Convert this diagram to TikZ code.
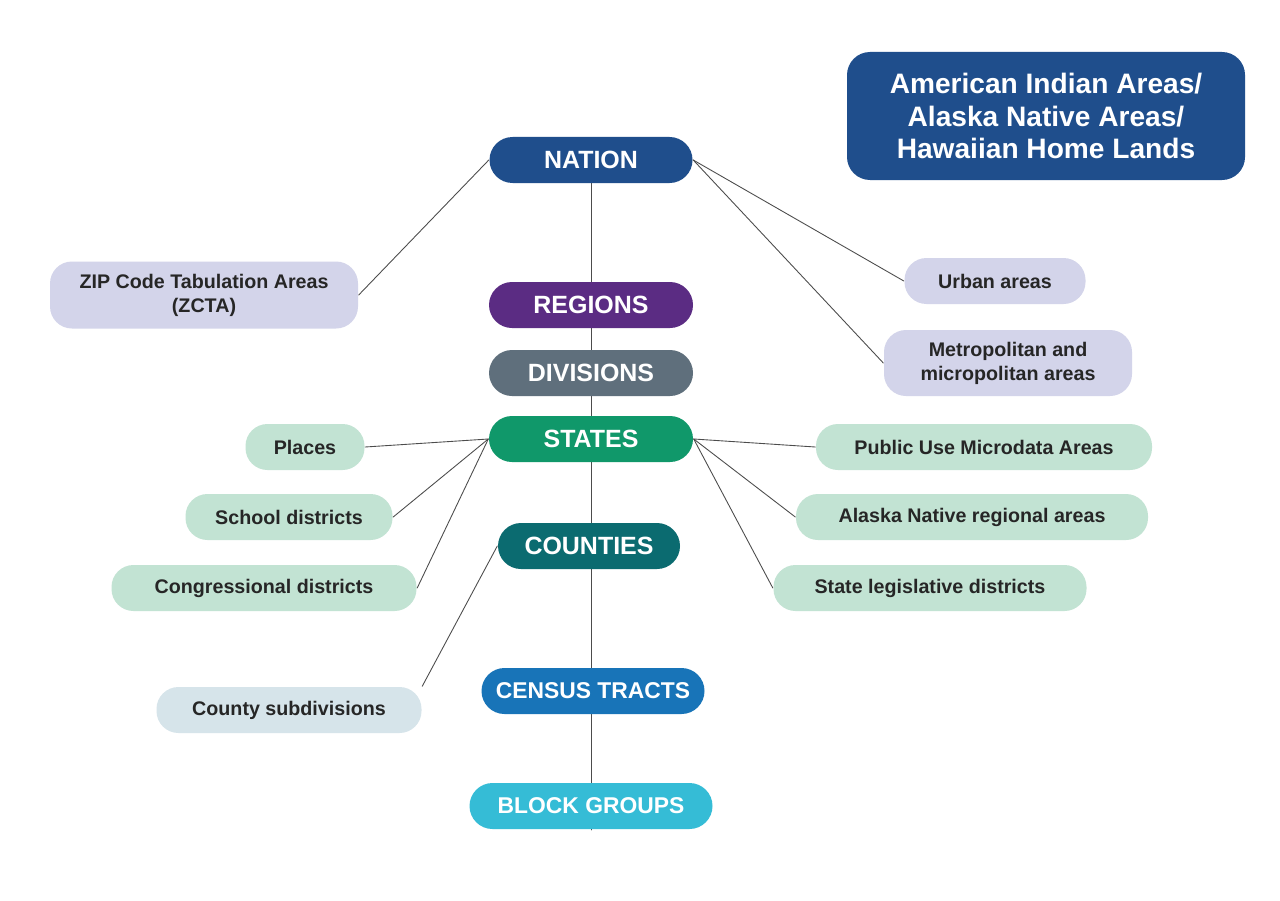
\documentclass[tikz,border=0pt]{standalone}
\usepackage{fontspec}
\setmainfont{Liberation Sans}
\definecolor{navy}{HTML}{1F4E8C}
\definecolor{purp}{HTML}{5B2C83}
\definecolor{slate}{HTML}{5F6F7C}
\definecolor{green}{HTML}{10986A}
\definecolor{teal}{HTML}{0B6B70}
\definecolor{blue}{HTML}{1874B8}
\definecolor{cyan}{HTML}{35BCD6}
\definecolor{lav}{HTML}{D3D4EA}
\definecolor{mint}{HTML}{C2E3D3}
\definecolor{ice}{HTML}{D6E4EA}
\tikzset{
  lvl/.style={rounded corners=0.23cm,text=white,font=\bfseries\fontsize{7.1}{8}\selectfont,
    minimum height=0.46cm,inner sep=0pt,align=center},
  side/.style={rounded corners=0.22cm,text=black!85,font=\bfseries\fontsize{5.6}{6.8}\selectfont,
    minimum height=0.46cm,inner sep=0pt,align=center},
  link/.style={black!70,line width=0.25pt}
}
\begin{document}
\begin{tikzpicture}[line join=round,line cap=round]
  \useasboundingbox[fill=white] (0,0) rectangle (12.8,9);
  % spine
  \draw[link] (5.91,7.4)--(5.91,0.7);
  % levels
  \path (5.91,7.40) node[lvl,fill=navy,minimum width=2.03cm] (N) {NATION}
        (5.91,5.95) node[lvl,fill=purp,minimum width=2.04cm] (R) {REGIONS}
        (5.91,5.27) node[lvl,fill=slate,minimum width=2.04cm] (D) {DIVISIONS}
        (5.91,4.61) node[lvl,fill=green,minimum width=2.04cm] (S) {STATES}
        (5.89,3.54) node[lvl,fill=teal,minimum width=1.82cm] (C) {COUNTIES}
        (5.93,2.09) node[lvl,fill=blue,minimum width=2.23cm,
          font=\bfseries\fontsize{6.5}{8}\selectfont] (T) {CENSUS TRACTS}
        (5.91,0.94) node[lvl,fill=cyan,minimum width=2.43cm,
          font=\bfseries\fontsize{6.5}{8}\selectfont] (B) {BLOCK GROUPS};
  \node[lvl,fill=navy,minimum width=3.98cm,minimum height=1.28cm,
        font=\bfseries\fontsize{8.0}{9.2}\selectfont] (AI) at (10.46,7.84)
        {American Indian Areas/\\Alaska Native Areas/\\Hawaiian Home Lands};
  % side areas
  \path (2.04,6.05) node[side,fill=lav,minimum width=3.08cm,minimum height=0.67cm] (Z)
          {ZIP Code Tabulation Areas\\(ZCTA)}
        (9.95,6.19) node[side,fill=lav,minimum width=1.81cm] (U) {Urban areas}
        (10.08,5.37) node[side,fill=lav,minimum width=2.48cm,minimum height=0.66cm] (M)
          {Metropolitan and\\micropolitan areas}
        (3.05,4.53) node[side,fill=mint,minimum width=1.19cm] (P) {Places}
        (2.89,3.83) node[side,fill=mint,minimum width=2.07cm] (SD) {School districts}
        (2.64,3.12) node[side,fill=mint,minimum width=3.05cm] (CD) {Congressional districts}
        (9.84,4.53) node[side,fill=mint,minimum width=3.36cm] (PU) {Public Use Microdata Areas}
        (9.72,3.83) node[side,fill=mint,minimum width=3.52cm] (AN) {Alaska Native regional areas}
        (9.30,3.12) node[side,fill=mint,minimum width=3.13cm] (SL) {State legislative districts}
        (2.89,1.90) node[side,fill=ice,minimum width=2.65cm] (CS) {County subdivisions};
  % connectors
  \draw[link] (N.west)--(Z.east);
  \draw[link] (N.east)--(U.west);
  \draw[link] (N.east)--(M.west);
  \draw[link] (S.west)--(P.east);
  \draw[link] (S.west)--(SD.east);
  \draw[link] (S.west)--(CD.east);
  \draw[link] (S.east)--(PU.west);
  \draw[link] (S.east)--(AN.west);
  \draw[link] (S.east)--(SL.west);
  \draw[link] (C.west)--(CS.north east);
\end{tikzpicture}
\end{document}
